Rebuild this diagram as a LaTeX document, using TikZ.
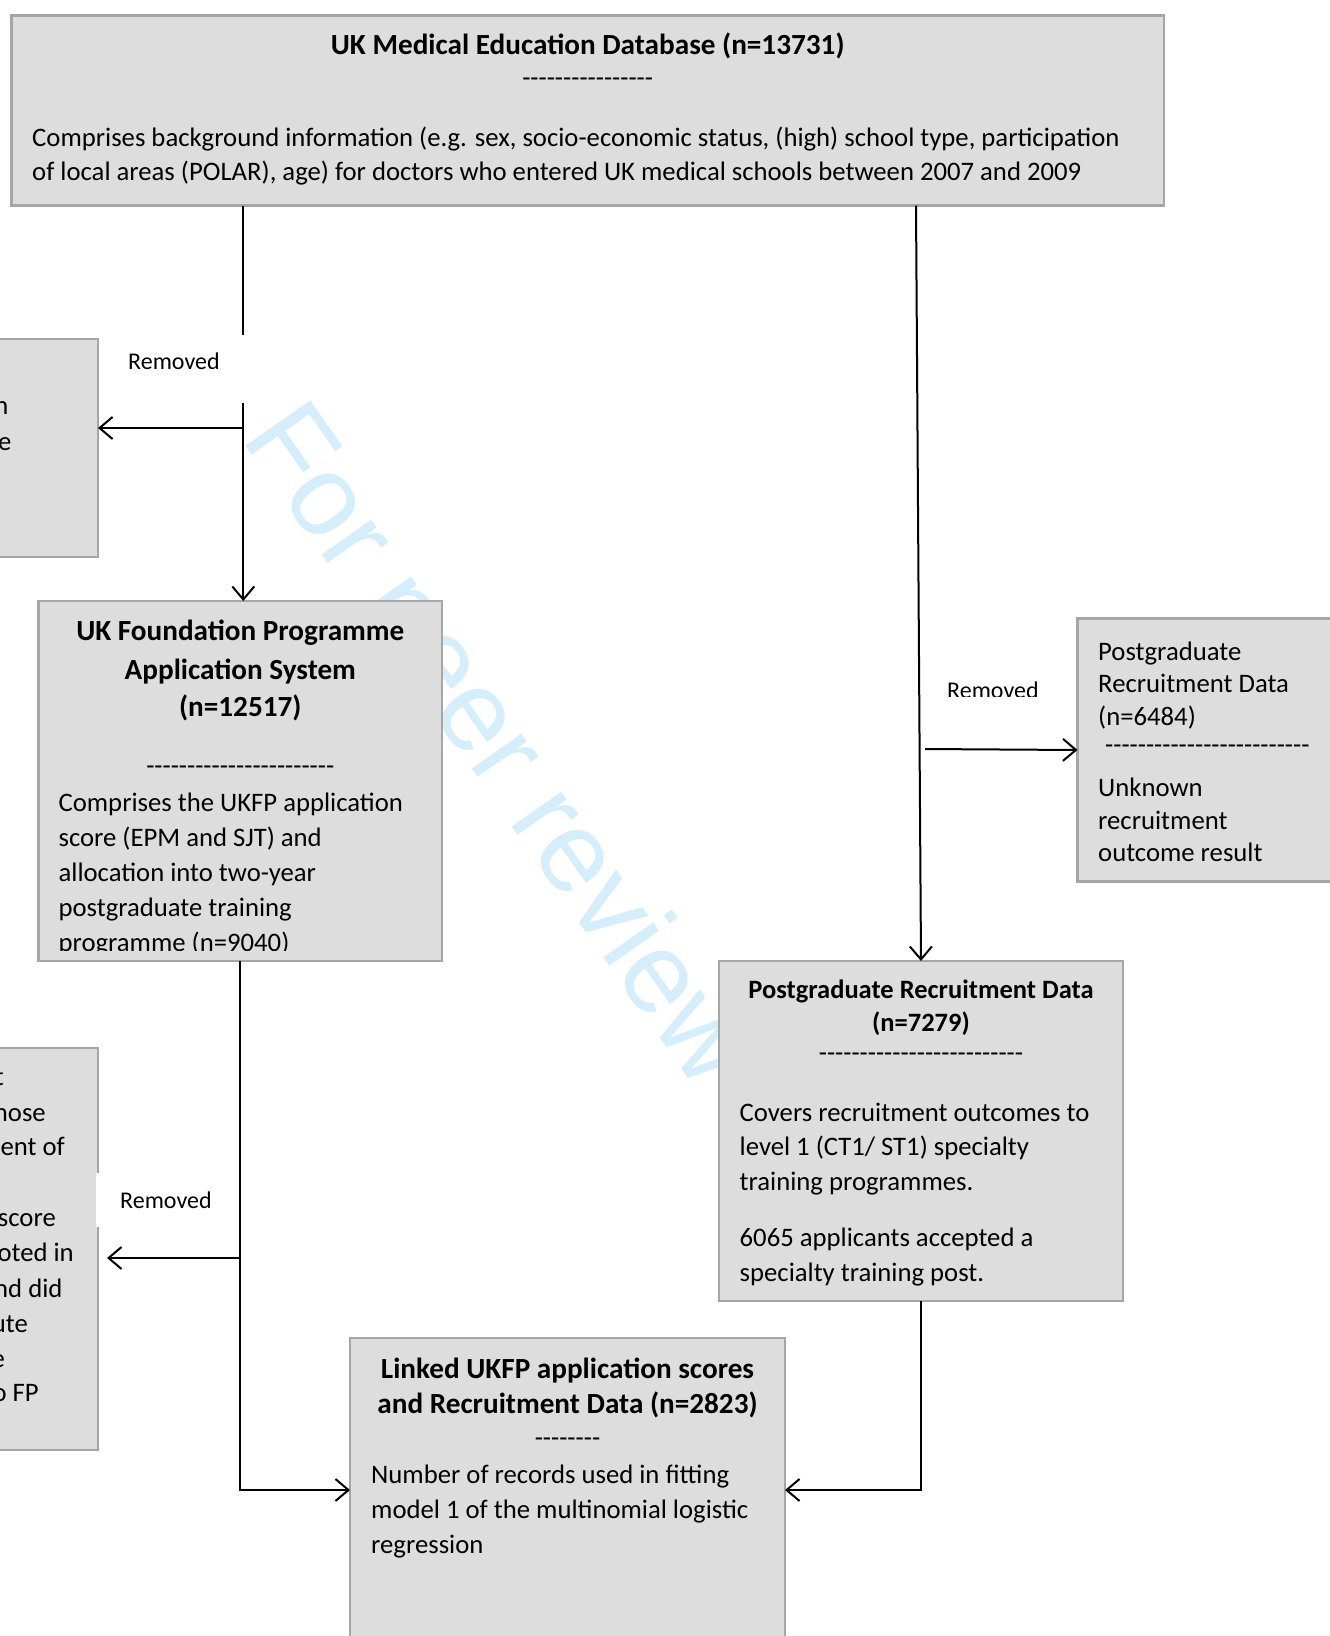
\documentclass[tikz,border=0pt]{standalone}
\usepackage{fontspec}
\setmainfont{Carlito}
\newfontfamily\wmfont{Liberation Sans}
\usetikzlibrary{arrows.meta}
\definecolor{boxfill}{RGB}{221,221,221}
\definecolor{boxline}{RGB}{166,166,166}
\definecolor{wm}{RGB}{212,238,251}
\newcommand\dsh[1]{\foreach\i in {1,...,#1}{-\kern0pt}}
\begin{document}
\begin{tikzpicture}[x=1pt,y=-1pt,
  box/.style={draw=boxline, fill=boxfill, line width=2.4pt, inner sep=0pt, outer sep=0pt, anchor=north west},
  conn/.style={line width=2pt, -{Straight Barb[length=13pt,width=22pt]}},
  txt/.style={inner sep=0pt, anchor=base west, font=\fontsize{26.7}{32}\selectfont},
  ctr/.style={inner sep=0pt, anchor=base, font=\fontsize{26.7}{32}\selectfont},
  ttl/.style={inner sep=0pt, anchor=base, font=\bfseries\fontsize{29.2}{35}\selectfont},
  ttls/.style={inner sep=0pt, anchor=base, font=\bfseries\fontsize{26.5}{32}\selectfont},
  rmv/.style={inner sep=0pt, anchor=base west, font=\fontsize{24}{28}\selectfont},
  mask/.style={fill=white, draw=none, inner sep=0pt, outer sep=0pt, anchor=north west},
  frag/.style={inner sep=0pt, anchor=base east, font=\fontsize{26.7}{32}\selectfont},
  wmark/.style={text=wm, font=\wmfont\fontsize{115}{120}\selectfont, inner sep=0pt}
]
\path[use as bounding box, fill=white] (0,0) rectangle (1330,1636);

% watermark
\node[wmark, rotate=-55, anchor=base west] (wmk) at (240,438) {For peer review};

% boxes
\node[box, minimum width=1152.5pt, minimum height=190pt] (top) at (11.5,15.6) {};
\node[box, minimum width=198pt, minimum height=218pt] (lb1) at (-100,339) {};
\node[box, minimum width=403.4pt, minimum height=360pt] (ukfp) at (38.6,601) {};
\node[box, minimum width=322.5pt, minimum height=263pt] (rb1) at (1077.5,618.5) {};
\node[box, minimum width=404pt, minimum height=340pt] (prd) at (719,961) {};
\node[box, minimum width=198pt, minimum height=402pt] (lb2) at (-100,1048) {};
\node[box, minimum width=435pt, minimum height=304pt] (linked) at (350,1338) {};

% top box text
\node[ttl] (t1) at (587.7,54.4) {UK Medical Education Database (n=13731)};
\node[ctr] (t2) at (587.7,86) {\dsh{16}};
\node[txt] (t3) at (32,146) {Comprises background information (e.g. sex, socio-economic status, (high) school type, participation};
\node[txt] (t4) at (32,180) {of local areas (POLAR), age) for doctors who entered UK medical schools between 2007 and 2009};

% left box 1 fragments
\node[frag] (f1) at (8.5,414) {n};
\node[frag] (f2) at (11.5,450) {e};

% UKFP text
\node[ttl] (u1) at (240.3,640) {UK Foundation Programme};
\node[ttl] (u2) at (240.3,679) {Application System};
\node[ttl] (u3) at (240.3,716) {(n=12517)};
\node[ctr] (u4) at (240.3,774) {\dsh{23}};
\begin{scope}
\clip (40,602) rectangle (440.5,950.5);
\node[txt] (u5) at (58.4,811) {Comprises the UKFP application};
\node[txt] (u6) at (58.4,846) {score (EPM and SJT) and};
\node[txt] (u7) at (58.4,881) {allocation into two-year};
\node[txt] (u8) at (58.4,916) {postgraduate training};
\node[txt] (u9) at (58.4,951) {programme (n=9040)};
\end{scope}

% right box 1 text
\node[txt] (r1t) at (1098,660) {Postgraduate};
\node[txt] (r2t) at (1098,692) {Recruitment Data};
\node[txt] (r3t) at (1098,725) {(n=6484)};
\node[txt] (r4t) at (1105,753) {\dsh{25}};
\node[txt] (r5t) at (1098,796) {Unknown};
\node[txt] (r6t) at (1098,829) {recruitment};
\node[txt] (r7t) at (1098,861) {outcome result};

% PRD text
\node[ttls] (p1) at (921,998) {Postgraduate Recruitment Data};
\node[ttls] (p2) at (921,1031) {(n=7279)};
\node[ctr] (p3) at (921,1061) {\dsh{25}};
\node[txt] (p4) at (739.5,1121) {Covers recruitment outcomes to};
\node[txt] (p5) at (739.5,1155) {level 1 (CT1/ ST1) specialty};
\node[txt] (p6) at (739.5,1190) {training programmes.};
\node[txt] (p7) at (739.5,1246) {6065 applicants accepted a};
\node[txt] (p8) at (739.5,1281) {specialty training post.};

% left box 2 fragments
\node[frag] (g1) at (4,1085) {t};
\node[frag] (g2) at (46,1121) {nose};
\node[frag] (g3) at (65,1155) {ent of};
\node[frag] (g4) at (56,1226) {score};
\node[frag] (g5) at (74,1261) {oted in};
\node[txt] (g6) at (-6,1297) {nd did};
\node[frag] (g7) at (28,1332) {ute};
\node[frag] (g8) at (5,1367) {e};
\node[frag] (g9) at (39,1401) {o FP};

% linked text
\node[ttl] (k1) at (567.5,1378) {Linked UKFP application scores};
\node[ttl] (k2) at (567.5,1413) {and Recruitment Data (n=2823)};
\node[ctr] (k3) at (567.5,1446) {\dsh{8}};
\node[txt] (k4) at (371,1483) {Number of records used in fitting};
\node[txt] (k5) at (371,1518) {model 1 of the multinomial logistic};
\node[txt] (k6) at (371,1553) {regression};

% connectors
\coordinate (ua) at ([xshift=3pt]ukfp.north);
\draw[conn] (ua |- top.south) -- (ua);
\coordinate (b1) at (243,428);
\draw[conn] (b1) -- (lb1.east |- b1);
\coordinate (ra) at ([xshift=-5pt]prd.north);
\draw[conn] (ra |- top.south) -- (prd.north);
\coordinate (b2) at (925,749);
\draw[conn] (b2) -- (rb1.west);
\draw[conn] (ukfp.south) |- (linked.west);
\coordinate (b3) at (240.3,1258);
\coordinate (t3a) at ([xshift=9pt]lb2.east);
\draw[conn] (b3) -- (t3a |- b3);
\draw[conn] (prd.south) |- (linked.east);

% Removed labels
\node[mask, minimum width=145pt, minimum height=68pt] (m1) at (100,335) {};
\node[rmv] (rm1) at (128,369) {Removed};
\node[mask, minimum width=129pt, minimum height=54pt] (m2) at (96,1173) {};
\node[rmv] (rm2) at (120,1208) {Removed};
\begin{scope}
\clip (930,660) rectangle (1060,696);
\node[rmv] (rm3) at (947,698) {Removed};
\end{scope}
\end{tikzpicture}
\end{document}
